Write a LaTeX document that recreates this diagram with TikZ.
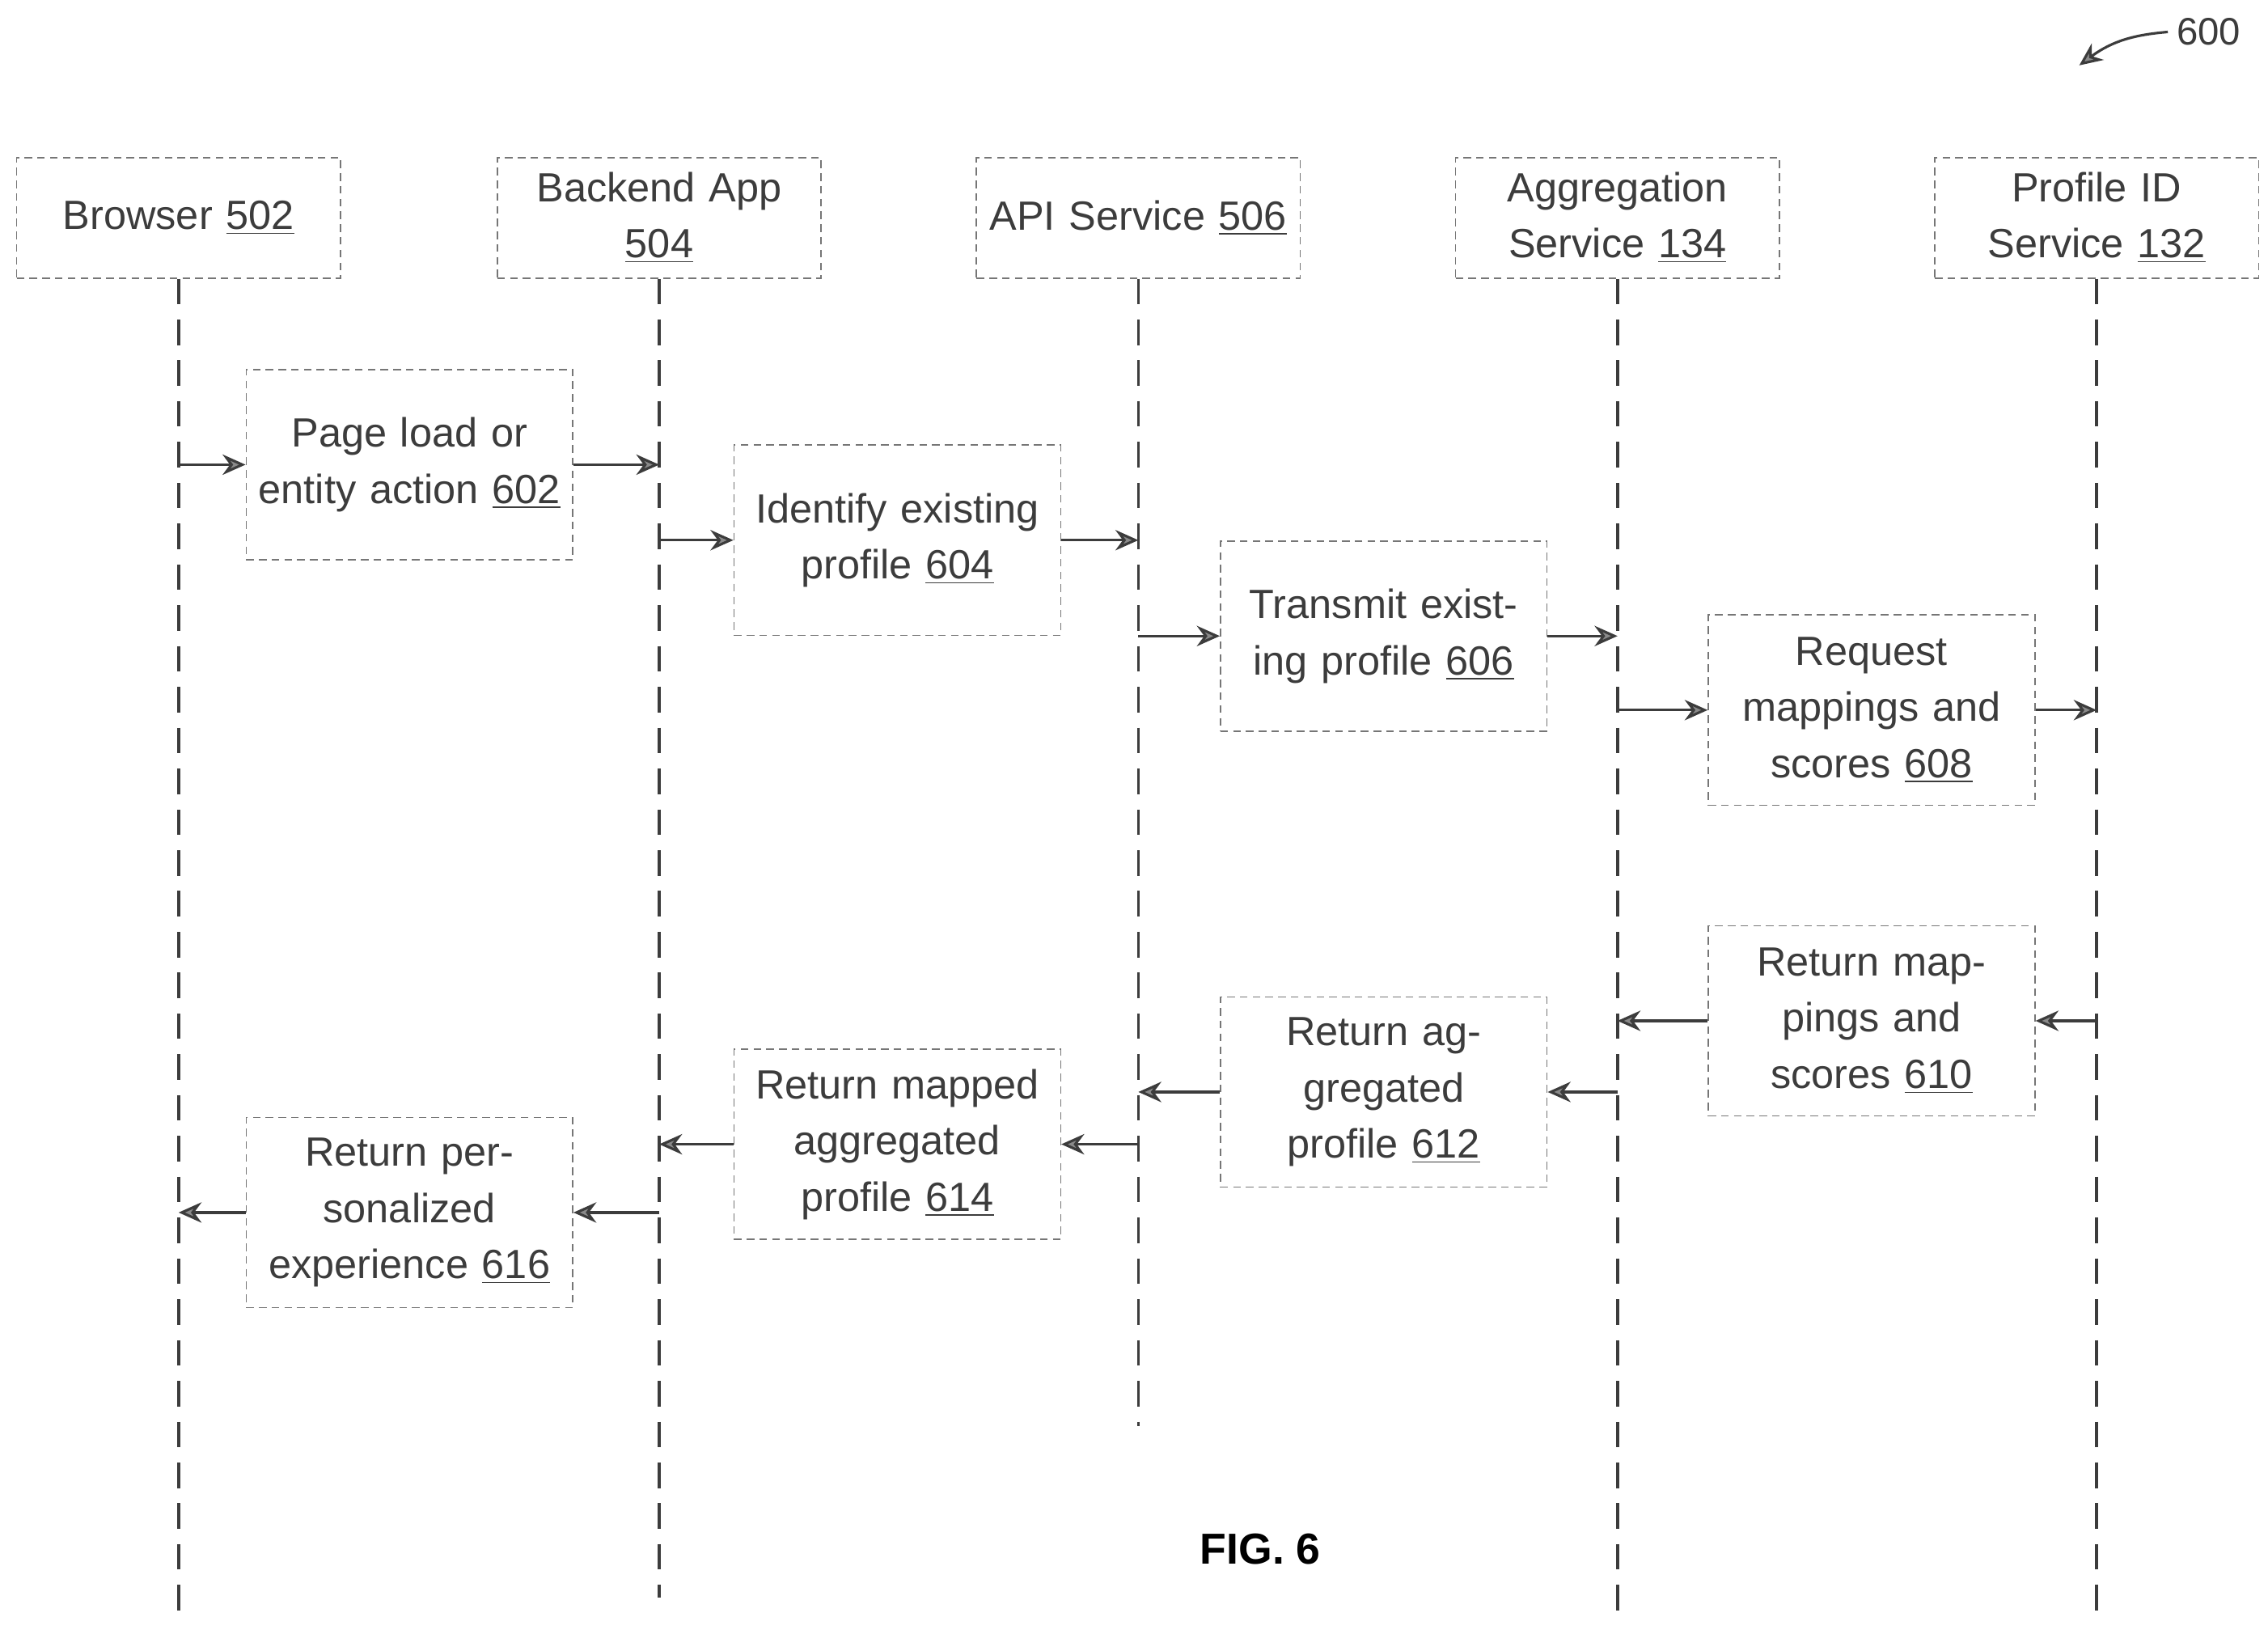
\documentclass[tikz,border=0pt]{standalone}
\usepackage{fontspec}
\setmainfont{Liberation Sans}
\usetikzlibrary{arrows.meta, positioning}
\definecolor{ink}{RGB}{60,60,60}
\tikzset{
  actor/.style={rectangle, draw=ink!70, densely dashed, line width=0.5pt, minimum width=4.46cm, minimum height=1.66cm, text width=4.2cm, align=center, font=\fontsize{16}{22}\selectfont, text=ink},
  action/.style={rectangle, draw=ink!70, densely dashed, line width=0.5pt, minimum width=4.5cm, minimum height=2.62cm, text width=4.2cm, align=center, font=\fontsize{16}{22}\selectfont, text=ink},
  life/.style={draw=ink, line width=1.2pt, dash pattern=on 10pt off 6pt},
  msg/.style={draw=ink, line width=1pt, -{Stealth[length=9pt,width=8pt,fill=ink!60]}}
}
\newcommand{\num}[1]{\underline{#1}}
\begin{document}
\begin{tikzpicture}[x=0.02cm, y=-0.02cm]
\useasboundingbox (0,0) rectangle (1562,1125);

% Participants
\node (browser) [actor] at (123,150) {Browser \num{502}};
\node (backend) [actor] at (454,150) {Backend App\\ \num{504}};
\node (api) [actor] at (784,150) {API Service \num{506}};
\node (agg) [actor] at (1114,150) {Aggregation Service \num{134}};
\node (pid) [actor] at (1444,150) {Profile ID\\ Service \num{132}};

% Lifelines
\coordinate (browserEnd) at (123,1115);
\coordinate (backendEnd) at (454,1100);
\coordinate (apiEnd) at (784,982);
\coordinate (aggEnd) at (1114,1115);
\coordinate (pidEnd) at (1444,1115);
\foreach \p in {browser, backend, api, agg, pid}
  \draw [life] (\p.south) -- (\p End);

% Steps
\node (s602) [action] at (282,320) {Page load or entity action \num{602}};
\node (s604) [action] at (618,372) {Identify existing profile \num{604}};
\node (s606) [action] at (953,438) {Transmit existing profile \num{606}};
\node (s608) [action] at (1289,489) {Request mappings and scores \num{608}};
\node (s610) [action] at (1289,703) {Return mappings and scores \num{610}};
\node (s612) [action] at (953,752) {Return aggregated profile \num{612}};
\node (s614) [action] at (618,788) {Return mapped aggregated profile \num{614}};
\node (s616) [action] at (282,835) {Return personalized experience \num{616}};

% Lifeline points
\coordinate (b1) at (123,320);  \coordinate (k1) at (454,320);
\coordinate (k2) at (454,372);  \coordinate (a2) at (784,372);
\coordinate (a3) at (784,438);  \coordinate (g3) at (1114,438);
\coordinate (g4) at (1114,489); \coordinate (p4) at (1444,489);
\coordinate (p5) at (1444,703); \coordinate (g5) at (1114,703);
\coordinate (g6) at (1114,752); \coordinate (a6) at (784,752);
\coordinate (a7) at (784,788);  \coordinate (k7) at (454,788);
\coordinate (k8) at (454,835);  \coordinate (b8) at (123,835);

% Messages
\draw [msg] (b1) -- (s602);  \draw [msg] (s602) -- (k1);
\draw [msg] (k2) -- (s604);  \draw [msg] (s604) -- (a2);
\draw [msg] (a3) -- (s606);  \draw [msg] (s606) -- (g3);
\draw [msg] (g4) -- (s608);  \draw [msg] (s608) -- (p4);
\draw [msg] (p5) -- (s610);  \draw [msg] (s610) -- (g5);
\draw [msg] (g6) -- (s612);  \draw [msg] (s612) -- (a6);
\draw [msg] (a7) -- (s614);  \draw [msg] (s614) -- (k7);
\draw [msg] (k8) -- (s616);  \draw [msg] (s616) -- (b8);

% Figure labels
\node (fig) at (868,1067) {\fontsize{17}{20}\selectfont\bfseries FIG. 6};
\node (ref) [anchor=west, text=ink] at (1493,22) {\fontsize{15}{18}\selectfont 600};
\coordinate (refTip) at (1432,45);
\draw [msg] (ref.west) .. controls (1470,24) and (1455,28) .. (refTip);
\end{tikzpicture}
\end{document}
